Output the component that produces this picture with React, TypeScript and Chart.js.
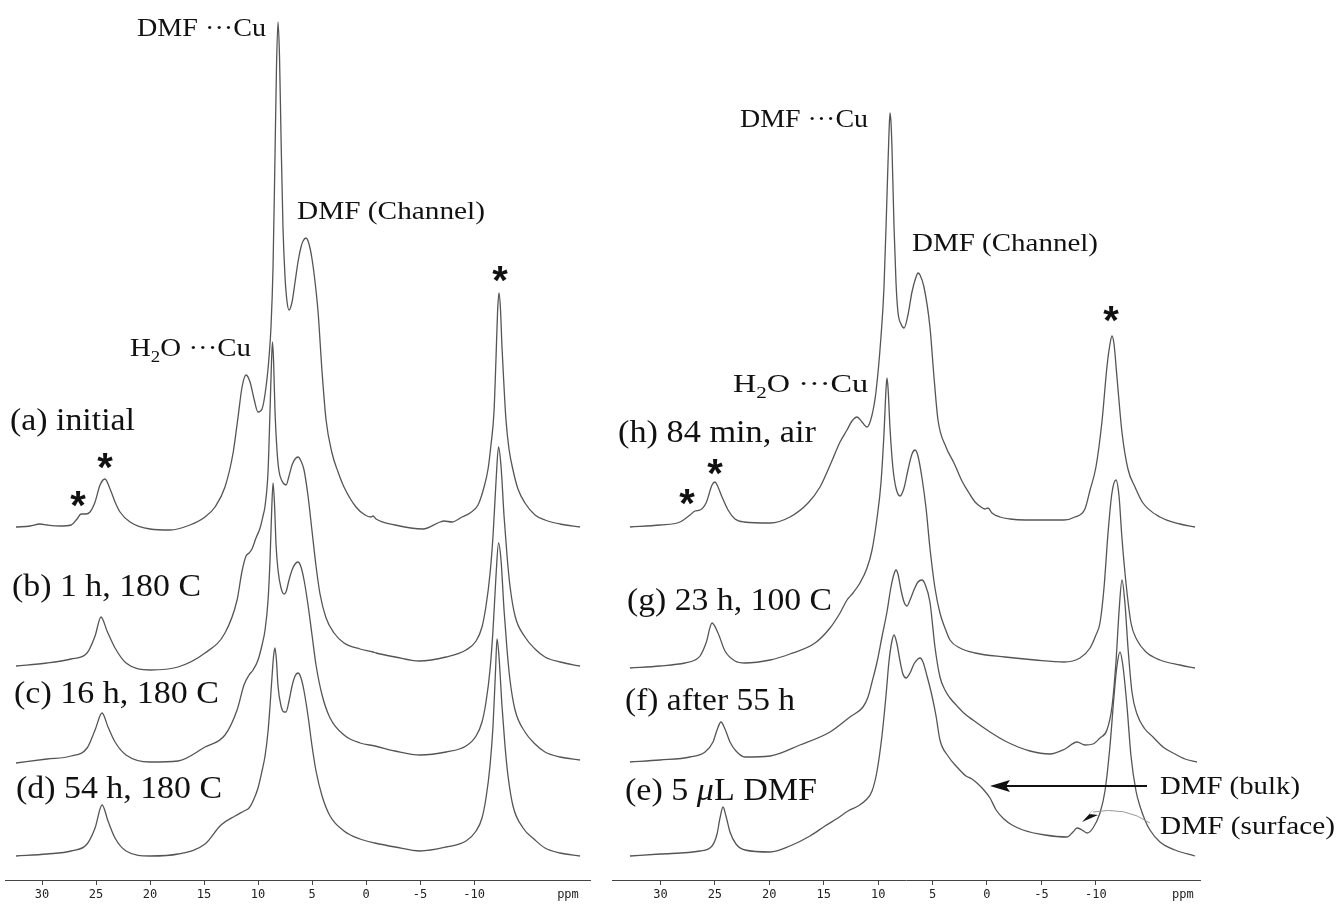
import React, { useEffect, useRef } from "react";
import { Chart, registerables } from "chart.js";
Chart.register(...registerables);

// ---- axis ticks (ppm) ----
const leftTicks = [30, 25, 20, 15, 10, 5, 0, -5, -10];
const rightTicks = [30, 25, 20, 15, 10, 5, 0, -5, -10];
const leftUnitPos = -18.7;
const rightUnitPos = -18.0;

// ---- spectrum labels ----
const leftLabels = ["(a) initial", "(b) 1 h, 180 C", "(c) 16 h, 180 C", "(d) 54 h, 180 C"];
const rightLabels = ["(h) 84 min, air", "(g) 23 h, 100 C", "(f) after 55 h", "(e) 5 µL DMF"];

// vertical stacking offsets (same units as intensities)
const leftOffsets = [353, 214, 120, 24];
const rightOffsets = [353, 212, 118, 24];

// ---- spectra: [ppm, intensity] ----
const specA: [number, number][] = [[32.41,0],[31.11,1],[30.19,3],[29.54,2],[28.33,1],[27.31,2],[26.76,8],[26.39,13],[25.93,13],[25.56,15],[25.09,25],[24.63,42],[24.17,48],[23.7,38],[23.24,25],[22.78,15],[21.85,5],[20.0,-2],[18.15,-3],[16.3,2],[14.91,10],[13.98,20],[13.06,40],[12.31,74],[11.85,110],[11.48,140],[11.11,152],[10.74,145],[10.37,128],[10.0,115],[9.63,118],[9.26,140],[8.98,170],[8.8,200],[8.61,260],[8.43,370],[8.29,460],[8.15,505],[8.01,470],[7.87,390],[7.69,300],[7.5,250],[7.31,225],[7.13,217],[6.85,225],[6.57,245],[6.3,265],[6.02,280],[5.83,286],[5.56,289],[5.28,283],[5.0,268],[4.72,245],[4.44,215],[4.07,155],[3.7,107],[3.15,74],[2.59,55],[2.04,40],[0.93,20],[0.09,12],[-0.46,10],[-0.65,11],[-0.93,8],[-2.69,2],[-5.28,-2],[-6.85,5],[-7.22,6],[-7.96,5],[-8.89,10],[-9.63,14],[-10.37,22],[-10.93,40],[-11.3,58],[-11.57,82],[-11.85,115],[-12.04,170],[-12.18,215],[-12.31,234],[-12.45,218],[-12.59,180],[-12.78,140],[-12.96,107],[-13.24,78],[-13.61,57],[-14.07,38],[-14.72,24],[-15.65,12],[-16.57,7],[-17.96,3],[-19.81,0]];
const specB: [number, number][] = [[32.41,0],[29.54,3],[27.31,7],[25.83,13],[25.09,30],[24.54,49],[23.98,35],[23.24,18],[22.22,3],[20.0,-4],[17.41,-1],[14.91,13],[13.06,33],[11.94,66],[11.48,95],[11.11,110],[10.83,113],[10.56,117],[10.19,128],[9.81,138],[9.54,150],[9.35,160],[9.07,195],[8.89,255],[8.75,305],[8.66,324],[8.56,305],[8.43,255],[8.24,215],[8.06,195],[7.78,185],[7.41,181],[7.13,190],[6.85,201],[6.57,207],[6.3,209],[6.02,205],[5.74,196],[5.37,170],[5.0,135],[4.63,100],[4.26,72],[3.7,48],[2.96,33],[2.04,23],[0.56,17],[-0.65,14],[-0.93,13],[-2.69,9],[-4.91,5],[-7.41,9],[-9.26,16],[-10.19,25],[-10.74,39],[-11.11,60],[-11.48,92],[-11.76,130],[-12.04,185],[-12.27,219],[-12.5,200],[-12.78,150],[-13.06,110],[-13.33,80],[-13.8,50],[-14.72,29],[-15.65,17],[-16.57,9],[-17.96,4],[-19.81,0]];
const specC: [number, number][] = [[32.41,-3],[29.54,1],[27.31,4],[25.83,12],[25.09,30],[24.44,47],[23.89,33],[23.24,18],[22.22,5],[20.0,-2],[17.41,-1],[14.91,13],[13.06,25],[11.94,50],[11.3,75],[10.83,85],[10.46,90],[10.0,100],[9.63,115],[9.35,130],[9.07,160],[8.89,200],[8.75,245],[8.61,277],[8.47,255],[8.33,215],[8.15,190],[7.87,172],[7.59,166],[7.41,168],[7.13,180],[6.85,190],[6.57,196],[6.3,198],[6.02,193],[5.74,180],[5.37,155],[5.0,125],[4.63,95],[4.07,65],[3.33,42],[2.04,25],[0.56,17],[-0.83,14],[-2.69,9],[-5.0,5],[-7.41,8],[-9.26,14],[-10.19,24],[-10.74,38],[-11.11,58],[-11.48,90],[-11.76,130],[-12.04,185],[-12.27,217],[-12.5,200],[-12.78,150],[-13.06,110],[-13.33,80],[-13.8,50],[-14.72,28],[-15.65,16],[-16.57,8],[-17.96,3],[-19.81,0]];
const specD: [number, number][] = [[32.41,0],[29.54,2],[27.31,5],[25.83,12],[25.09,28],[24.44,51],[23.89,35],[23.24,18],[22.22,5],[20.0,0],[17.41,2],[14.91,12],[13.43,31],[12.13,40],[11.3,45],[10.83,48],[10.46,55],[10.0,68],[9.63,85],[9.35,100],[9.07,125],[8.89,150],[8.7,180],[8.56,200],[8.43,208],[8.29,195],[8.15,170],[7.87,150],[7.59,144],[7.41,144],[7.13,155],[6.85,170],[6.57,180],[6.3,183],[6.02,178],[5.74,165],[5.37,140],[5.0,110],[4.63,85],[4.07,60],[3.33,40],[2.04,25],[0.56,17],[-0.83,13],[-2.69,9],[-5.0,5],[-7.41,9],[-9.26,15],[-10.19,25],[-10.74,38],[-11.11,58],[-11.48,90],[-11.76,130],[-11.99,185],[-12.13,217],[-12.31,200],[-12.59,150],[-12.87,110],[-13.15,80],[-13.61,50],[-14.54,28],[-15.65,16],[-16.57,8],[-17.96,3],[-19.81,0]];

const specH: [number, number][] = [[32.8,0],[30.04,2],[28.2,5],[27.28,12],[26.82,16],[26.36,17],[25.81,24],[25.26,42],[24.99,45],[24.71,40],[24.34,30],[23.79,17],[23.15,8],[22.32,5],[19.93,4],[18.1,10],[16.44,24],[15.34,40],[14.33,64],[13.5,85],[12.86,97],[12.4,106],[11.94,110],[11.48,105],[11.02,100],[10.56,112],[10.2,135],[9.74,190],[9.46,240],[9.19,330],[9.0,395],[8.91,414],[8.82,405],[8.73,380],[8.54,300],[8.36,245],[8.18,215],[7.9,203],[7.62,199],[7.26,212],[6.89,235],[6.52,250],[6.34,254],[6.15,252],[5.79,240],[5.24,200],[4.87,150],[4.5,107],[3.77,80],[3.03,64],[2.3,46],[1.65,34],[1.1,25],[0.55,20],[0.18,18],[-0.09,19],[-0.46,14],[-1.19,10],[-2.11,8],[-3.49,7],[-5.79,7],[-7.07,7],[-8.08,10],[-9.0,18],[-9.47,37],[-10.01,60],[-10.56,105],[-11.02,160],[-11.3,183],[-11.48,191],[-11.67,183],[-11.94,150],[-12.4,95],[-12.95,58],[-13.6,40],[-14.33,24],[-15.89,10],[-17.73,3],[-19.11,0]];
const specG: [number, number][] = [[32.8,0],[30.04,2],[27.74,5],[26.82,8],[26.36,12],[25.81,25],[25.26,45],[24.71,35],[24.07,17],[23.15,7],[22.23,5],[19.93,8],[18.1,14],[15.8,25],[14.42,40],[13.5,55],[12.86,68],[12.31,75],[11.67,85],[11.02,100],[10.56,118],[10.1,150],[9.74,185],[9.46,235],[9.28,278],[9.19,290],[9.09,280],[8.91,240],[8.64,200],[8.36,180],[7.99,172],[7.62,180],[7.26,198],[6.89,214],[6.61,218],[6.34,212],[5.97,190],[5.6,160],[5.24,120],[4.78,80],[4.32,55],[3.86,40],[3.4,28],[2.48,20],[1.1,15],[-1.65,11],[-4.41,8],[-7.07,6],[-8.54,10],[-9.47,20],[-10.01,33],[-10.38,45],[-10.75,80],[-11.12,135],[-11.48,175],[-11.85,188],[-12.13,172],[-12.4,130],[-12.77,85],[-13.23,45],[-13.78,28],[-14.61,16],[-15.89,8],[-17.73,3],[-19.11,0]];
const specF: [number, number][] = [[32.8,0],[30.04,2],[27.28,5],[25.9,10],[25.17,20],[24.8,32],[24.44,40],[24.07,33],[23.61,20],[23.06,11],[22.23,5],[19.93,6],[17.18,17],[14.42,30],[12.59,45],[11.39,55],[10.93,65],[10.56,80],[10.1,100],[9.65,125],[9.19,150],[8.82,175],[8.54,188],[8.36,192],[8.18,188],[7.9,172],[7.62,160],[7.35,156],[7.07,162],[6.71,172],[6.34,180],[5.97,182],[5.7,178],[5.24,160],[4.78,115],[4.32,85],[3.86,72],[3.4,64],[2.66,55],[2.02,48],[1.29,42],[-0.28,30],[-1.84,20],[-3.95,11],[-5.79,8],[-7.17,13],[-8.27,20],[-9.0,17],[-9.74,18],[-10.38,24],[-11.02,32],[-11.48,55],[-11.85,100],[-12.13,150],[-12.4,182],[-12.68,158],[-12.95,115],[-13.32,70],[-13.78,48],[-14.51,33],[-15.25,25],[-16.17,15],[-17.09,9],[-18.19,3],[-19.29,0]];
const specE: [number, number][] = [[32.8,0],[30.04,2],[26.36,5],[25.26,10],[24.8,22],[24.53,38],[24.25,49],[23.98,40],[23.61,24],[23.06,12],[22.23,6],[19.93,4],[18.1,10],[16.26,20],[14.88,30],[13.69,38],[12.77,45],[11.85,50],[11.12,56],[10.56,65],[10.1,85],[9.65,120],[9.28,160],[9.0,195],[8.73,215],[8.54,221],[8.27,212],[7.99,195],[7.72,182],[7.44,178],[7.07,183],[6.71,192],[6.34,197],[6.15,198],[5.88,194],[5.51,180],[5.05,160],[4.68,140],[4.32,116],[3.58,100],[2.76,89],[1.93,80],[1.38,77],[0.92,73],[0.37,67],[-0.28,58],[-0.84,46],[-1.56,37],[-2.3,31],[-3.31,26],[-5.33,21],[-7.35,19],[-7.9,24],[-8.27,28],[-8.73,26],[-9.19,23],[-9.74,28],[-10.38,43],[-10.84,65],[-11.3,110],[-11.67,160],[-11.94,190],[-12.22,204],[-12.49,190],[-12.86,150],[-13.23,100],[-13.69,65],[-14.05,50],[-14.51,36],[-14.97,26],[-15.89,14],[-17.27,6],[-19.11,0]];

const SERIF = '"Liberation Serif", "Times New Roman", serif';
const INK = "#111";

type Seg = { t: string; font: string; dy?: number };

function rich(ctx: CanvasRenderingContext2D, segs: Seg[], x: number, y: number, w: number) {
  let total = 0;
  for (const s of segs) { ctx.font = s.font; total += ctx.measureText(s.t).width; }
  const k = w / total;
  ctx.save();
  ctx.translate(x, y);
  ctx.scale(k, 1);
  let cx = 0;
  for (const s of segs) {
    ctx.font = s.font;
    ctx.fillText(s.t, cx, s.dy || 0);
    cx += ctx.measureText(s.t).width;
  }
  ctx.restore();
}
function plain(ctx: CanvasRenderingContext2D, t: string, x: number, y: number, w: number, size: number) {
  rich(ctx, [{ t, font: `${size}px ${SERIF}` }], x, y, w);
}
function star(ctx: CanvasRenderingContext2D, x: number, y: number) {
  ctx.save();
  ctx.font = 'bold 40px "Liberation Sans", Arial, sans-serif';
  ctx.textAlign = "center";
  ctx.textBaseline = "alphabetic";
  ctx.fillText("*", x, y + 24);
  ctx.restore();
}
function dmfCu(ctx: CanvasRenderingContext2D, x: number, y: number, w: number) {
  const f = `26px ${SERIF}`;
  rich(ctx, [{ t: "DMF ", font: f }, { t: "\u00B7\u00B7\u00B7", font: f }, { t: "Cu", font: f }], x, y, w);
}
function h2oCu(ctx: CanvasRenderingContext2D, x: number, y: number, w: number) {
  const f = `26px ${SERIF}`;
  rich(ctx, [{ t: "H", font: f }, { t: "2", font: `17px ${SERIF}`, dy: 6 }, { t: "O \u00B7\u00B7\u00B7Cu", font: f }], x, y, w);
}

function drawLeft(ctx: CanvasRenderingContext2D) {
  dmfCu(ctx, 137, 36, 129);
  plain(ctx, "DMF (Channel)", 297, 219, 188, 26);
  h2oCu(ctx, 130, 356, 121);
  plain(ctx, leftLabels[0], 10, 430, 125, 32);
  plain(ctx, leftLabels[1], 12, 596, 189, 32);
  plain(ctx, leftLabels[2], 14, 703, 205, 32);
  plain(ctx, leftLabels[3], 16, 798, 206, 32);
  star(ctx, 500, 270);
  star(ctx, 105, 457);
  star(ctx, 78, 495);
}

function drawRight(ctx: CanvasRenderingContext2D) {
  const ox = 610;
  dmfCu(ctx, 740 - ox, 127, 128);
  plain(ctx, "DMF (Channel)", 912 - ox, 251, 186, 26);
  h2oCu(ctx, 733 - ox, 392, 135);
  plain(ctx, rightLabels[0], 618 - ox, 442, 198, 32);
  plain(ctx, rightLabels[1], 627 - ox, 610, 205, 32);
  plain(ctx, rightLabels[2], 625 - ox, 710, 170, 32);
  const f = `32px ${SERIF}`;
  rich(ctx, [{ t: "(e) 5 ", font: f }, { t: "\u03BC", font: `italic 32px ${SERIF}` }, { t: "L DMF", font: f }], 625 - ox, 800, 192);
  plain(ctx, "DMF (bulk)", 1160 - ox, 794, 140, 26);
  plain(ctx, "DMF (surface)", 1160 - ox, 834, 175, 26);
  star(ctx, 1111 - ox, 310);
  star(ctx, 715 - ox, 463);
  star(ctx, 687 - ox, 493);
  // bulk arrow
  ctx.save();
  ctx.strokeStyle = INK;
  ctx.fillStyle = INK;
  ctx.lineWidth = 2;
  ctx.beginPath();
  ctx.moveTo(1147 - ox, 786);
  ctx.lineTo(1002 - ox, 786);
  ctx.stroke();
  ctx.beginPath();
  ctx.moveTo(990 - ox, 786);
  ctx.lineTo(1010 - ox, 780);
  ctx.lineTo(1006 - ox, 786);
  ctx.lineTo(1010 - ox, 792);
  ctx.closePath();
  ctx.fill();
  // surface pointer
  ctx.strokeStyle = "#999";
  ctx.lineWidth = 1;
  ctx.beginPath();
  ctx.moveTo(1150 - ox, 823);
  ctx.quadraticCurveTo(1125 - ox, 806, 1093 - ox, 812);
  ctx.stroke();
  ctx.beginPath();
  ctx.moveTo(1082 - ox, 822);
  ctx.lineTo(1095 - ox, 808);
  ctx.lineTo(1089 - ox, 814);
  ctx.lineTo(1098 - ox, 815);
  ctx.closePath();
  ctx.fill();
  ctx.restore();
}

function makeChart(
  canvas: HTMLCanvasElement,
  spectra: [number, number][][],
  offsets: number[],
  labels: string[],
  ticks: number[],
  unitPos: number,
  min: number,
  max: number,
  padL: number,
  padR: number,
  notes: (ctx: CanvasRenderingContext2D) => void
) {
  return new Chart(canvas, {
    type: "line",
    data: {
      datasets: spectra.map((s, i) => ({
        label: labels[i],
        data: s.map(([x, h]) => ({ x, y: h + offsets[i] })),
        borderColor: "#555",
        borderWidth: 1.3,
        pointRadius: 0,
        fill: false,
        cubicInterpolationMode: "monotone" as const,
      })),
    },
    options: {
      responsive: false,
      animation: false,
      layout: { padding: { left: padL, right: padR, top: 0, bottom: 0 } },
      plugins: { legend: { display: false }, tooltip: { enabled: false } },
      scales: {
        x: {
          type: "linear",
          reverse: true,
          min,
          max,
          afterBuildTicks: (s: any) => {
            s.ticks = [...ticks, unitPos].map((v) => ({ value: v }));
          },
          afterFit: (s: any) => {
            s.height = 28;
          },
          ticks: {
            autoSkip: false,
            maxRotation: 0,
            padding: 3,
            color: "#222",
            font: { family: '"DejaVu Sans Mono", monospace', size: 12 },
            callback: (v: any) => (v === unitPos ? "ppm" : String(v)),
          },
          grid: {
            drawOnChartArea: false,
            drawTicks: true,
            tickLength: 5,
            tickColor: (c: any) => (c.tick && c.tick.value === unitPos ? "rgba(0,0,0,0)" : "#444"),
          },
          border: { display: true, color: "#444", width: 1 },
        },
        y: { display: false, min: 0, max: 880 },
      },
    },
    plugins: [
      {
        id: "notes",
        afterDraw: (chart: any) => {
          const ctx = chart.ctx as CanvasRenderingContext2D;
          ctx.save();
          ctx.fillStyle = INK;
          ctx.textAlign = "left";
          ctx.textBaseline = "alphabetic";
          notes(ctx);
          ctx.restore();
        },
      },
    ],
  } as any);
}

export default function App() {
  const leftRef = useRef<HTMLCanvasElement>(null);
  const rightRef = useRef<HTMLCanvasElement>(null);
  useEffect(() => {
    const c1 = makeChart(leftRef.current!, [specA, specB, specC, specD], leftOffsets, leftLabels, leftTicks, leftUnitPos, -20.74, 33.43, 5, 20, drawLeft);
    const c2 = makeChart(rightRef.current!, [specH, specG, specF, specE], rightOffsets, rightLabels, rightTicks, rightUnitPos, -19.57, 34.45, 2, 138, drawRight);
    return () => {
      c1.destroy();
      c2.destroy();
    };
  }, []);
  return (
    <div style={{ position: "fixed", left: 0, top: 0, width: 1338, height: 908, background: "#fff", overflow: "hidden" }}>
      <canvas ref={leftRef} width={610} height={908} style={{ position: "absolute", left: 0, top: 0, width: 610, height: 908 }} />
      <canvas ref={rightRef} width={728} height={908} style={{ position: "absolute", left: 610, top: 0, width: 728, height: 908 }} />
    </div>
  );
}
